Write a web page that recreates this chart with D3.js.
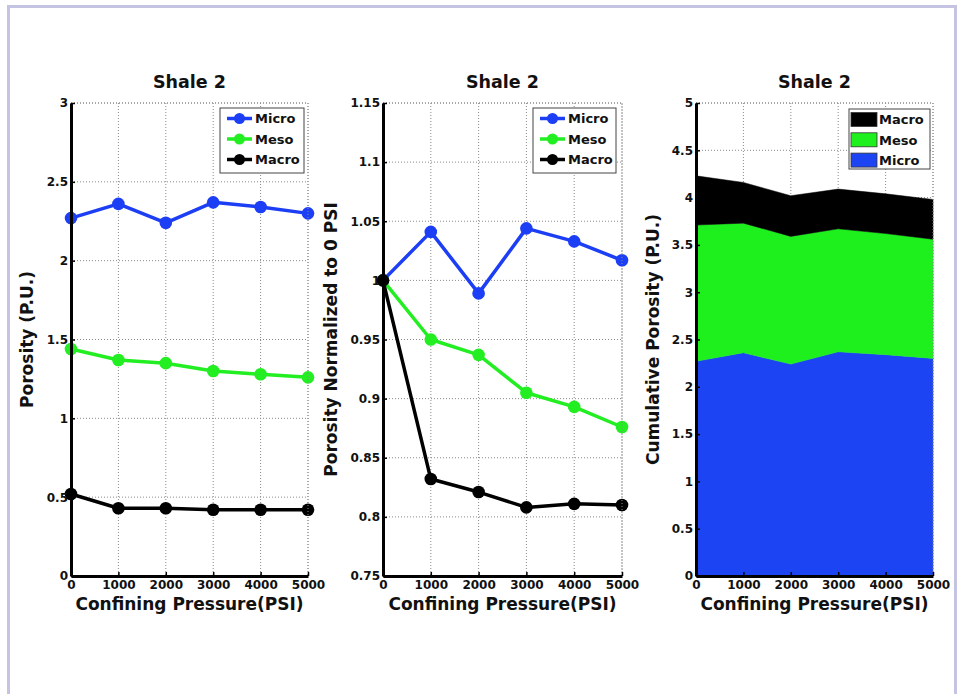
<!DOCTYPE html>
<html>
<head>
<meta charset="utf-8">
<script src="https://cdn.jsdelivr.net/npm/d3@7"></script>
<style>
  html, body { margin: 0; padding: 0; background: #fff; }
  svg { display: block; font-family: "DejaVu Sans", sans-serif; font-weight: bold; }
</style>
</head>
<body>
<svg id="chart" width="960" height="694"></svg>
<script>
// ---------------- data ----------------
const pressure = [0, 1000, 2000, 3000, 4000, 5000];
const seriesNames = ["Micro", "Meso", "Macro"];
const microPorosity = [2.27, 2.36, 2.24, 2.37, 2.34, 2.30];
const mesoPorosity  = [1.44, 1.37, 1.35, 1.30, 1.28, 1.26];
const macroPorosity = [0.52, 0.43, 0.43, 0.42, 0.42, 0.42];
const microNorm = [1, 1.041, 0.989, 1.044, 1.033, 1.017];
const mesoNorm  = [1, 0.950, 0.937, 0.905, 0.893, 0.876];
const macroNorm = [1, 0.832, 0.821, 0.808, 0.811, 0.810];
const pressureTicks = ["0", "1000", "2000", "3000", "4000", "5000"];
const porosityTicks = ["0", "0.5", "1", "1.5", "2", "2.5", "3"];
const normTicks = ["0.75", "0.8", "0.85", "0.9", "0.95", "1", "1.05", "1.1", "1.15"];
const cumulativeTicks = ["0", "0.5", "1", "1.5", "2", "2.5", "3", "3.5", "4", "4.5", "5"];
const titleText = "Shale 2";
const xLabelText = "Confining Pressure(PSI)";
const yLabels = ["Porosity (P.U.)", "Porosity Normalized to 0 PSI", "Cumulative Porosity (P.U.)"];

// ---------------- styles ----------------
const colors = { Micro: "#1c3ef4", Meso: "#22ee22", Macro: "#000000" };
const fillColors = { Micro: "#1c44f2", Meso: "#1ef01e", Macro: "#000000" };

const svg = d3.select("#chart");

// outer frame (lavender)
svg.append("path")
  .attr("d", "M8.5,694 L8.5,6.5 L955.5,6.5 L955.5,694")
  .attr("fill", "none").attr("stroke", "#c4c4e2").attr("stroke-width", 3);

const plotTop = 103, plotBottom = 576;

const panelDefs = [
  { x0: 71, x1: 308, ticks: porosityTicks, ylab: yLabels[0], ylabX: 33, kind: "line",
    data: [microPorosity, mesoPorosity, macroPorosity],
    legend: { x: 220, y: 108, w: 84, h: 65 } },
  { x0: 383, x1: 622, ticks: normTicks, ylab: yLabels[1], ylabX: 337, kind: "line",
    data: [microNorm, mesoNorm, macroNorm],
    legend: { x: 533, y: 108, w: 83, h: 65 } },
  { x0: 696, x1: 933, ticks: cumulativeTicks, ylab: yLabels[2], ylabX: 659, kind: "area",
    data: [microPorosity, mesoPorosity, macroPorosity],
    legend: { x: 849, y: 109, w: 81, h: 60 } }
];

panelDefs.forEach(p => {
  const yVals = p.ticks.map(Number);
  const x = d3.scaleLinear().domain([0, 5000]).range([p.x0, p.x1]);
  const y = d3.scaleLinear().domain([yVals[0], yVals[yVals.length - 1]]).range([plotBottom, plotTop]);
  const g = svg.append("g");

  // grid
  const grid = g.append("g").attr("stroke", "#8a8a8a").attr("stroke-width", 1)
    .attr("stroke-dasharray", "1,2");
  pressureTicks.map(Number).forEach(v => {
    grid.append("line").attr("x1", x(v)).attr("x2", x(v)).attr("y1", plotTop).attr("y2", plotBottom);
  });
  yVals.forEach(v => {
    grid.append("line").attr("x1", p.x0).attr("x2", p.x1).attr("y1", y(v)).attr("y2", y(v));
  });

  if (p.kind === "line") {
    const line = d3.line().x((d, i) => x(pressure[i])).y(d => y(d));
    seriesNames.forEach((name, k) => {
      const vals = p.data[k];
      g.append("path").datum(vals).attr("d", line)
        .attr("fill", "none").attr("stroke", colors[name]).attr("stroke-width", 3.5)
        .attr("stroke-linejoin", "round");
      g.selectAll(null).data(vals).enter().append("circle")
        .attr("cx", (d, i) => x(pressure[i])).attr("cy", d => y(d)).attr("r", 6.3)
        .attr("fill", colors[name]);
    });
  } else {
    const rows = pressure.map((pr, i) => ({ p: pr, Micro: p.data[0][i], Meso: p.data[1][i], Macro: p.data[2][i] }));
    const stacked = d3.stack().keys(seriesNames)(rows);
    const area = d3.area().x(d => x(d.data.p)).y0(d => y(d[0])).y1(d => y(d[1]));
    stacked.forEach(s => {
      g.append("path").datum(s).attr("d", area).attr("fill", fillColors[s.key])
        .attr("stroke", fillColors[s.key]).attr("stroke-width", 0.5);
    });
  }

  // box top/right dotted
  g.append("path").attr("d", `M${p.x0},${plotTop}H${p.x1}V${plotBottom}`)
    .attr("fill", "none").attr("stroke", "#8a8a8a").attr("stroke-width", 1).attr("stroke-dasharray", "1,2");

  // axes
  const yAxis = d3.axisLeft(y).tickValues(yVals).tickFormat((d, i) => p.ticks[i])
    .tickSizeInner(-4).tickSizeOuter(0).tickPadding(3);
  const xAxis = d3.axisBottom(x).tickValues(pressureTicks.map(Number)).tickFormat((d, i) => pressureTicks[i])
    .tickSizeInner(-4).tickSizeOuter(0).tickPadding(4);
  const ya = g.append("g").attr("transform", `translate(${p.x0},0)`).call(yAxis);
  const xa = g.append("g").attr("transform", `translate(0,${plotBottom})`).call(xAxis);
  [ya, xa].forEach(a => {
    a.attr("font-family", null).attr("font-size", null);
    a.select(".domain").attr("stroke", "#000").attr("stroke-width", 3);
    a.selectAll(".tick line").attr("stroke", "#000").attr("stroke-width", 1.5);
    a.selectAll(".tick text").attr("fill", "#111").style("font-size", "12px")
      .style("font-family", "'DejaVu Sans', sans-serif").style("font-weight", "bold");
  });

  // title
  svg.append("text").attr("x", (p.x0 + p.x1) / 2).attr("y", 88).attr("text-anchor", "middle")
    .style("font-size", "17.5px").attr("fill", "#111").text(titleText);
  // x label
  svg.append("text").attr("x", (p.x0 + p.x1) / 2).attr("y", 610).attr("text-anchor", "middle")
    .style("font-size", "17px").attr("fill", "#111").text(xLabelText);
  // y label
  svg.append("text").attr("transform", `translate(${p.ylabX},${(plotTop + plotBottom) / 2}) rotate(-90)`)
    .attr("text-anchor", "middle").style("font-size", "17px").attr("fill", "#111").text(p.ylab);

  // legend
  const L = p.legend;
  const lg = svg.append("g");
  lg.append("rect").attr("x", L.x).attr("y", L.y).attr("width", L.w).attr("height", L.h)
    .attr("fill", "#fff").attr("stroke", "#444").attr("stroke-width", 1);
  const order = p.kind === "line" ? seriesNames : seriesNames.slice().reverse();
  const rowH = p.kind === "line" ? 20.5 : 20.3;
  order.forEach((name, k) => {
    const cy = L.y + 10.5 + k * rowH;
    if (p.kind === "line") {
      lg.append("line").attr("x1", L.x + 7).attr("x2", L.x + 32).attr("y1", cy).attr("y2", cy)
        .attr("stroke", colors[name]).attr("stroke-width", 3.5);
      lg.append("circle").attr("cx", L.x + 19.5).attr("cy", cy).attr("r", 5.5).attr("fill", colors[name]);
      lg.append("text").attr("x", L.x + 35).attr("y", cy + 4.8).style("font-size", "13px")
        .attr("fill", "#111").text(name);
    } else {
      lg.append("rect").attr("x", L.x + 2).attr("y", cy - 7).attr("width", 26).attr("height", 14)
        .attr("fill", fillColors[name]).attr("stroke", "#333").attr("stroke-width", 0.8);
      lg.append("text").attr("x", L.x + 30).attr("y", cy + 4.8).style("font-size", "13px")
        .attr("fill", "#111").text(name);
    }
  });
});
</script>
</body>
</html>
